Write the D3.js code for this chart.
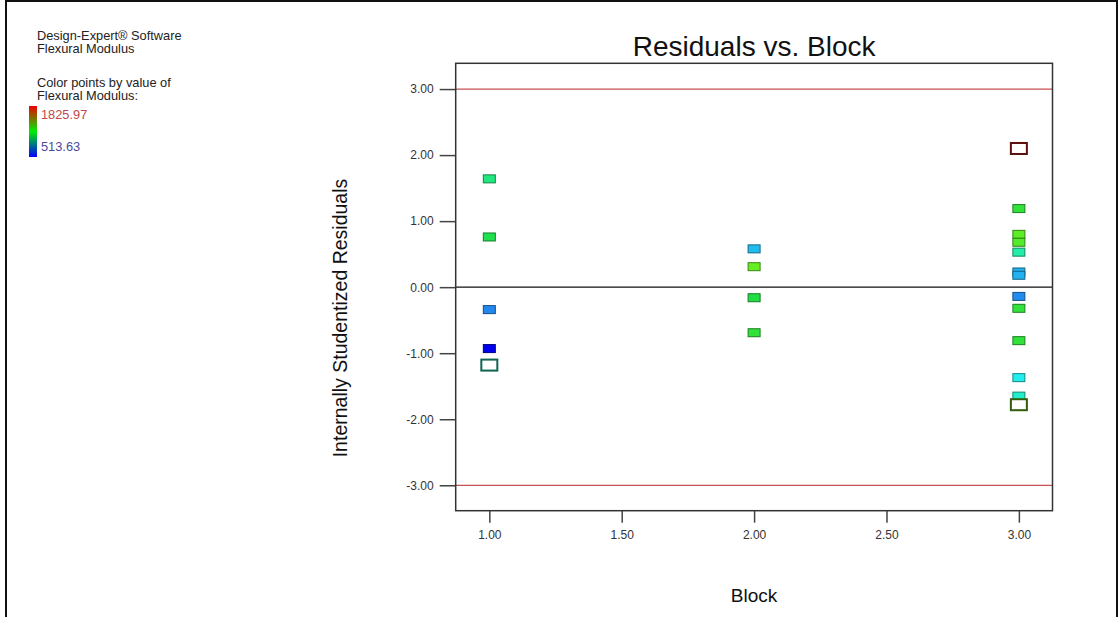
<!DOCTYPE html>
<html>
<head>
<meta charset="utf-8">
<script src="https://cdn.jsdelivr.net/npm/d3@7"></script>
<style>
  body { margin: 0; background: #fff; }
  svg { font-family: "Liberation Sans", Arial, sans-serif; }
</style>
</head>
<body>
<div id="chart"></div>
<script>
// Residuals vs. Block, coloured by Flexural Modulus
const blocks = [1, 1, 1, 1, 1,
                2, 2, 2, 2,
                3, 3, 3, 3, 3, 3, 3, 3, 3, 3, 3, 3, 3];
const residuals = [1.64, 0.76, -0.34, -0.93, -1.18,
                   0.58, 0.31, -0.16, -0.69,
                   2.10, 1.19, 0.80, 0.68, 0.53, 0.23, 0.18, -0.14, -0.32, -0.81, -1.37, -1.65, -1.78];
const modulus = [1065, 1130, 671, 513.63, 973,
                 802, 1249, 1143, 1170,
                 1825.97, 1170, 1235, 1222, 1012, 776, 776, 684, 1170, 1170, 907, 960, 1301];
// points drawn as open (highlighted) squares
const highlighted = [false, false, false, false, true,
                     false, false, false, false,
                     true, false, false, false, false, false, false, false, false, false, false, false, true];

const xTicks = [1.0, 1.5, 2.0, 2.5, 3.0];
const yTicks = [3, 2, 1, 0, -1, -2, -3];
const limitLines = [3, -3];
const modulusRange = [513.63, 1825.97];

const width = 1120, height = 617;
const plot = {left: 455.7, right: 1052.5, top: 63.3, bottom: 510.7};

const svg = d3.select("#chart").append("svg")
    .attr("width", width)
    .attr("height", height);

// outer frame of the picture
svg.append("rect")
    .attr("x", 6).attr("y", 1)
    .attr("width", 1111).attr("height", 640)
    .attr("fill", "none")
    .attr("stroke", "#111")
    .attr("stroke-width", 2);

const x = d3.scaleLinear().domain([0.873, 3.127]).range([plot.left, plot.right]);
const y = d3.scaleLinear().domain([-3.385, 3.39]).range([plot.bottom, plot.top]);

const color = d3.scaleLinear()
    .domain([513.63, 671, 802, 907, 1012, 1143, 1249, 1825.97])
    .range(["#0000ee", "#2288ee", "#22bbee", "#22eeee", "#22eeaa", "#22dd44", "#66ee22", "#dd2222"]);

// Legend / info text (top left)
const info = svg.append("g").attr("font-size", "12.8px").attr("fill", "#222");
info.append("text").attr("x", 37).attr("y", 40).text("Design-Expert® Software");
info.append("text").attr("x", 37).attr("y", 53).text("Flexural Modulus");
info.append("text").attr("x", 37).attr("y", 87).text("Color points by value of");
info.append("text").attr("x", 37).attr("y", 100).text("Flexural Modulus:");

const grad = svg.append("defs").append("linearGradient")
    .attr("id", "legendGrad")
    .attr("x1", 0).attr("y1", 1).attr("x2", 0).attr("y2", 0);
grad.append("stop").attr("offset", "0%").attr("stop-color", "#0000ff");
grad.append("stop").attr("offset", "50%").attr("stop-color", "#00ee00");
grad.append("stop").attr("offset", "100%").attr("stop-color", "#ee0000");

svg.append("rect")
    .attr("x", 29).attr("y", 106)
    .attr("width", 8).attr("height", 51)
    .attr("fill", "url(#legendGrad)");

svg.append("text")
    .attr("x", 41).attr("y", 119)
    .attr("font-size", "12.8px")
    .attr("fill", "#c04848")
    .text(modulusRange[1].toFixed(2));
svg.append("text")
    .attr("x", 41).attr("y", 151)
    .attr("font-size", "12.8px")
    .attr("fill", "#4a4a9a")
    .text(modulusRange[0].toFixed(2));

// Title
svg.append("text")
    .attr("x", (plot.left + plot.right) / 2)
    .attr("y", 56)
    .attr("text-anchor", "middle")
    .attr("font-size", "28px")
    .attr("fill", "#111")
    .text("Residuals vs. Block");

// Limit lines and zero line
svg.selectAll(".limit")
    .data(limitLines)
    .join("line")
    .attr("class", "limit")
    .attr("x1", plot.left).attr("x2", plot.right)
    .attr("y1", d => y(d)).attr("y2", d => y(d))
    .attr("stroke", "#c85050")
    .attr("stroke-width", 1.3);

svg.append("line")
    .attr("x1", plot.left).attr("x2", plot.right)
    .attr("y1", y(0)).attr("y2", y(0))
    .attr("stroke", "#111")
    .attr("stroke-width", 1.3);

// Axes
const fmt = d => d.toFixed(2);
const yAxis = svg.append("g")
    .attr("transform", `translate(${plot.left},0)`)
    .call(d3.axisLeft(y).tickValues(yTicks).tickSize(16).tickPadding(6).tickFormat(fmt));
const xAxis = svg.append("g")
    .attr("transform", `translate(0,${plot.bottom})`)
    .call(d3.axisBottom(x).tickValues(xTicks).tickSize(12).tickPadding(8).tickFormat(fmt));

[yAxis, xAxis].forEach(ax => {
    ax.select(".domain").remove();
    ax.selectAll(".tick line").attr("stroke", "#444").attr("stroke-width", 1.5);
    ax.selectAll(".tick text")
        .attr("fill", "#333")
        .style("font-size", "12px")
        .style("font-family", "'Liberation Sans', Arial, sans-serif");
});

// Plot frame
svg.append("rect")
    .attr("x", plot.left).attr("y", plot.top)
    .attr("width", plot.right - plot.left)
    .attr("height", plot.bottom - plot.top)
    .attr("fill", "none")
    .attr("stroke", "#333")
    .attr("stroke-width", 1.5);

// Axis titles
svg.append("text")
    .attr("transform", "translate(347,318) rotate(-90)")
    .attr("text-anchor", "middle")
    .attr("font-size", "19.5px")
    .attr("fill", "#111")
    .text("Internally Studentized Residuals");

svg.append("text")
    .attr("x", (plot.left + plot.right) / 2)
    .attr("y", 602)
    .attr("text-anchor", "middle")
    .attr("font-size", "19px")
    .attr("fill", "#111")
    .text("Block");

// Points
const pts = blocks.map((b, i) => ({block: b, res: residuals[i], val: modulus[i], open: highlighted[i]}));

svg.append("g").selectAll("rect")
    .data(pts)
    .join("rect")
    .attr("x", d => x(d.block) - (d.open ? 8 : 6))
    .attr("y", d => y(d.res) - (d.open ? 5.5 : 4))
    .attr("width", d => d.open ? 16 : 12)
    .attr("height", d => d.open ? 11 : 8)
    .attr("fill", d => d.open ? "#fff" : color(d.val))
    .attr("stroke", d => d3.color(color(d.val)).darker(d.open ? 2.4 : 1.6))
    .attr("stroke-width", d => d.open ? 2 : 1);
</script>
</body>
</html>
